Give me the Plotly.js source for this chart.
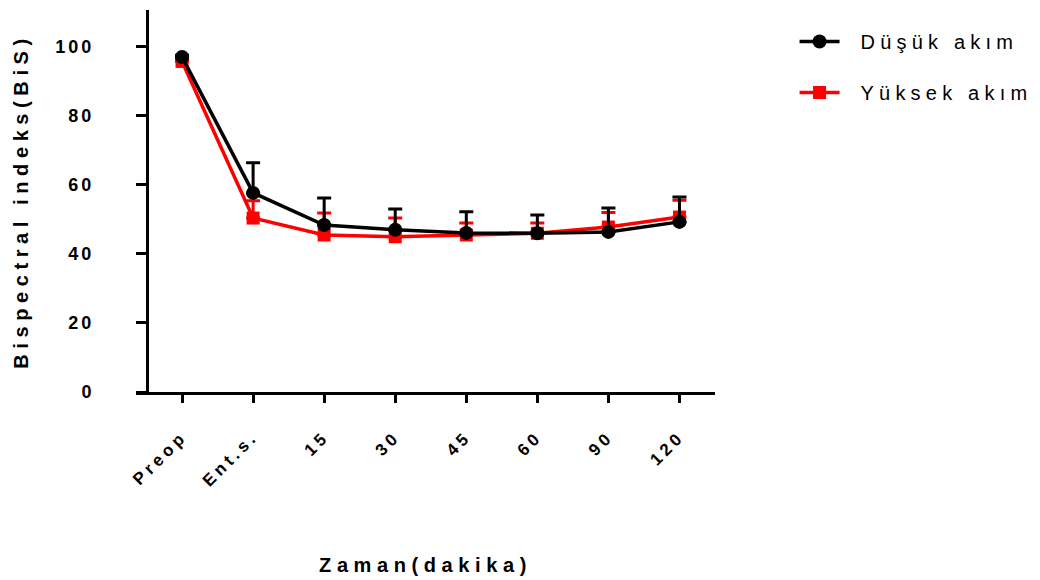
<!DOCTYPE html>
<html>
<head>
<meta charset="utf-8">
<script src="https://cdn.plot.ly/plotly-3.0.1.min.js"></script>
<style>
html, body { margin: 0; padding: 0; background: #fff; }
#chart { width: 1040px; height: 580px; }
.ytick text { letter-spacing: 3px; }
.xtick text { letter-spacing: 4px; }
.g-xtitle text, .g-ytitle text, text.xtitle, text.ytitle { letter-spacing: 5.6px; }
text.legendtext { letter-spacing: 5.2px; }
.legend .legendlines path { stroke-dasharray: 40 300; }
.legend .legendpoints path { translate: -8px 0; }
</style>
</head>
<body>
<div id="chart"></div>
<script>
// Data
const categories = ["Preop", "Ent.s.", "15", "30", "45", "60", "90", "120"];
const dusukName = "Düşük akım";
const dusukValues = [97.1, 57.7, 48.4, 47.0, 46.1, 46.0, 46.4, 49.3];
const dusukErrors = [0.5, 8.7, 7.8, 6.0, 6.1, 5.3, 6.9, 7.2];
const yuksekName = "Yüksek akım";
const yuksekValues = [95.8, 50.4, 45.5, 45.0, 45.5, 46.0, 47.8, 50.7];
const yuksekErrors = [0.5, 5.0, 6.4, 5.4, 3.5, 3.0, 4.2, 4.9];
const yTicks = [0, 20, 40, 60, 80, 100];

const FONT = "Liberation Sans, Arial, sans-serif";
const xIdx = categories.map((c, i) => i);

const traces = [
  {
    x: xIdx, y: yuksekValues, name: yuksekName, type: "scatter", mode: "lines+markers",
    legendgroup: "b", legendrank: 2,
    line: { color: "#ff0000", width: 3.5 },
    marker: { symbol: "square", size: 13, color: "#ff0000" },
    error_y: { type: "data", symmetric: false, array: yuksekErrors, arrayminus: yuksekErrors.map(() => 0),
               color: "#ff0000", thickness: 3, width: 7 }
  },
  {
    x: xIdx, y: dusukValues, name: dusukName, type: "scatter", mode: "lines+markers",
    legendgroup: "a", legendrank: 1,
    line: { color: "#000000", width: 3.5 },
    marker: { symbol: "circle", size: 14, color: "#000000" },
    error_y: { type: "data", symmetric: false, array: dusukErrors, arrayminus: dusukErrors.map(() => 0),
               color: "#000000", thickness: 3, width: 7 }
  }
];

const layout = {
  width: 1040, height: 580,
  margin: { l: 136, r: 325, t: 10, b: 188 },
  paper_bgcolor: "#ffffff", plot_bgcolor: "#ffffff",
  font: { family: FONT, color: "#000" },
  showlegend: true,
  legend: {
    xref: "container", yref: "container",
    x: 0.764, y: 0.962, xanchor: "left", yanchor: "top",
    font: { family: FONT, size: 20, color: "#000" },
    traceorder: "grouped", tracegroupgap: 22,
    itemwidth: 56, bgcolor: "rgba(0,0,0,0)"
  },
  xaxis: {
    range: [-0.648, 7.5],
    tickmode: "array", tickvals: xIdx, ticktext: categories,
    tickangle: -45,
    ticks: "outside", ticklen: 8, tickwidth: 3, tickcolor: "#000",
    ticklabelstandoff: 17,
    tickfont: { family: FONT, size: 17, color: "#000", weight: "bold" },
    showline: true, linecolor: "#000", linewidth: 3,
    showgrid: false, zeroline: false,
    title: { text: "Zaman(dakika)", font: { family: FONT, size: 20, color: "#000", weight: "bold" }, standoff: 69 }
  },
  yaxis: {
    range: [0, 110.7],
    anchor: "free", position: 0.019,
    tickmode: "array", tickvals: yTicks, ticktext: yTicks.map(String),
    ticks: "outside", ticklen: 10, tickwidth: 3, tickcolor: "#000",
    ticklabelstandoff: 38,
    tickfont: { family: FONT, size: 18, color: "#000", weight: "bold" },
    showline: true, linecolor: "#000", linewidth: 3,
    showgrid: false, zeroline: false,
    title: { text: "Bispectral indeks(BiS)", font: { family: FONT, size: 20, color: "#000", weight: "bold" }, standoff: 20 }
  }
};

Plotly.newPlot("chart", traces, layout, { displayModeBar: false, staticPlot: true });
</script>
</body>
</html>
